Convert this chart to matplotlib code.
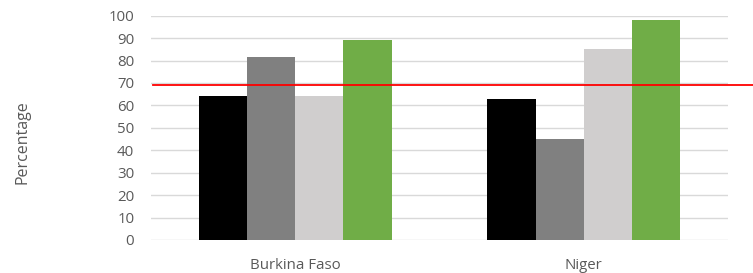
import numpy as np
import matplotlib.pyplot as plt

categories = ["Burkina Faso", "Niger"]
series_a = [64.2, 62.9]
series_b = [81.6, 45.0]
series_c = [64.2, 85.1]
series_d = [89.0, 98.1]
threshold = 69.1

colors = ["#000000", "#808080", "#D0CECE", "#70AD47"]

plt.rcParams['font.family'] = ['Open Sans', 'DejaVu Sans']

fig = plt.figure(figsize=(7.53, 2.73), dpi=100)
ax = fig.add_axes([0.2005, 0.1209, 0.7663, 0.8216])

x = np.arange(len(categories))
width = 0.167
all_series = [series_a, series_b, series_c, series_d]
for i, vals in enumerate(all_series):
    ax.bar(x + (i - 1.5) * width, vals, width, color=colors[i], zorder=3)

ax.set_xlim(-0.5, len(categories) - 0.5)
ax.set_ylim(0, 100)
ax.set_yticks(range(0, 101, 10))
ax.set_xticks(x)
ax.set_xticklabels(categories)
ax.grid(axis='y', color='#D9D9D9', linewidth=1.0, zorder=0)
for s in ax.spines.values():
    s.set_visible(False)
ax.tick_params(axis='both', length=0, colors='#595959', labelsize=10.8)
ax.tick_params(axis='y', pad=12)
ax.tick_params(axis='x', pad=13)

# red reference line runs past the plot area to the figure edge
ax.axhline(threshold, xmin=0.003, xmax=1.043, color='#FF0000',
           linewidth=1.3, clip_on=False, zorder=4)

fig.text(22 / 753, 1 - 142 / 273, "Percentage", rotation=90, color='#595959',
         fontsize=11.5, ha='center', va='center')

fig.savefig("out.png", dpi=100)
